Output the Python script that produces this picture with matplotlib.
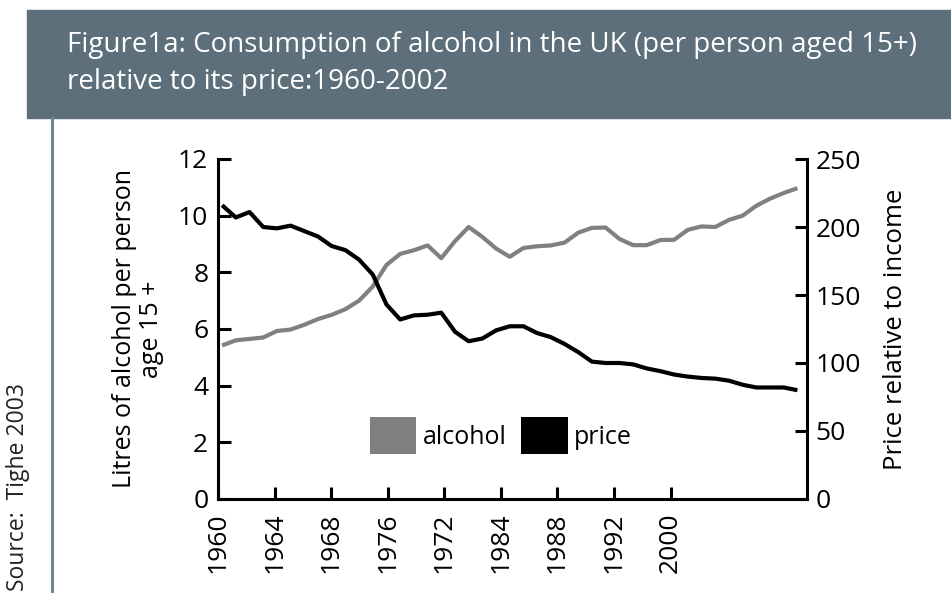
import numpy as np
import matplotlib.pyplot as plt
from matplotlib.patches import Patch, Rectangle
from matplotlib.lines import Line2D

plt.rcParams['font.family'] = ['Open Sans', 'DejaVu Sans']

# data
years = np.arange(1960, 2003)
alcohol = [5.42, 5.60, 5.65, 5.70, 5.93, 5.98, 6.15, 6.35, 6.50, 6.70,
           7.00, 7.50, 8.26, 8.65, 8.78, 8.95, 8.50, 9.10, 9.60, 9.25,
           8.84, 8.55, 8.86, 8.92, 8.95, 9.05, 9.40, 9.57, 9.58, 9.18,
           8.96, 8.96, 9.14, 9.15, 9.50, 9.62, 9.60, 9.85, 10.00, 10.35,
           10.60, 10.80, 10.97]
price = [216, 207, 211, 200, 199, 201, 197, 193, 186, 183,
         176, 165, 143, 132, 135, 135.5, 137, 123, 116, 118,
         124, 127, 127, 122, 119, 114, 108, 101, 100, 100,
         99, 96, 94, 91.5, 90, 89, 88.5, 87, 84, 82,
         82, 82, 80]
# tick labels as printed in the source (order as in the original)
xlabels = ['1960', '1964', '1968', '1976', '1972', '1984', '1988', '1992', '2000']
left_ticks = [0, 2, 4, 6, 8, 10, 12]
right_ticks = [0, 50, 100, 150, 200, 250]

header_col = '#5c6f7a'
gray = '#808080'

fig = plt.figure(figsize=(9.51, 5.93), dpi=100)

# header band and left rule
fig.patches.append(Rectangle((27 / 951, 1 - 118 / 593), 1 - 27 / 951, 108 / 593,
                             transform=fig.transFigure, color=header_col, zorder=0))
fig.lines.append(Line2D([52 / 951, 52 / 951], [0, 1 - 118 / 593], transform=fig.transFigure,
                        color='#74878f', lw=2.2))
fig.text(67 / 951, 1 - 45 / 593, 'Figure1a: Consumption of alcohol in the UK (per person aged 15+)',
         color='white', fontsize=20, va='center', ha='left')
fig.text(67 / 951, 1 - 82 / 593, 'relative to its price:1960-2002',
         color='white', fontsize=20, va='center', ha='left')
fig.text(18 / 951, 0.003, 'Source:  Tighe 2003', rotation=90, color='#222222',
         fontsize=16.5, ha='center', va='bottom')

ax = fig.add_axes([218 / 951, 1 - 499 / 593, 589 / 951, 340 / 593])
ax2 = ax.twinx()

ax.plot(years, alcohol, color=gray, lw=3, solid_capstyle='butt')
ax2.plot(years, price, color='black', lw=3, solid_capstyle='butt')

x0 = 1959.7
ax.set_xlim(x0, 2002.7)
ax.set_ylim(0, 12)
ax2.set_ylim(0, 250)
ax.set_xticks(x0 + np.arange(len(xlabels)) * 4.13)
ax.set_xticklabels(xlabels, rotation=90)
ax.set_yticks(left_ticks)
ax2.set_yticks(right_ticks)

for a in (ax, ax2):
    a.spines['top'].set_visible(False)
    for s in ('left', 'right', 'bottom'):
        a.spines[s].set_linewidth(2.2)
ax.spines['right'].set_visible(False)
ax2.spines['left'].set_visible(False)
ax2.spines['bottom'].set_visible(False)

ax.tick_params(axis='both', direction='in', length=9, width=2.2, labelsize=19)
ax.tick_params(axis='y', pad=7)
ax.tick_params(axis='x', pad=10)
ax2.tick_params(axis='y', direction='in', length=9, width=2.2, labelsize=19, pad=6)

ax.set_ylabel('Litres of alcohol per person\nage 15 +', fontsize=18, labelpad=10,
              linespacing=1.1)
ax2.set_ylabel('Price relative to income', fontsize=18.5, labelpad=16)

handles = [Patch(facecolor=gray, edgecolor='none', label='alcohol'),
           Patch(facecolor='black', edgecolor='none', label='price')]
ax.legend(handles=handles, loc='upper left', bbox_to_anchor=(0.258, 0.24), ncol=2,
          frameon=False, fontsize=18, handlelength=1.85, handleheight=1.9,
          handletextpad=0.25, columnspacing=0.6, borderpad=0, borderaxespad=0)

fig.savefig('out.png', dpi=100)
